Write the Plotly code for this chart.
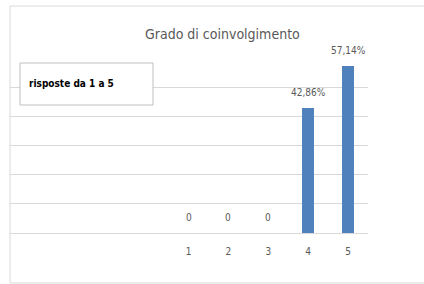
import plotly.graph_objects as go

categories = [1, 2, 3, 4, 5]
values = [0, 0, 0, 42.86, 57.14]
value_labels = ["0", "0", "0", "42,86%", "57,14%"]
tick_labels = ["1", "2", "3", "4", "5"]
title_text = "Grado di coinvolgimento"
legend_text = "risposte da 1 a 5"

FONT = "DejaVu Sans Condensed, Liberation Sans Narrow, sans-serif"
GREY = "#595959"

W, H = 424, 284
L, R, T, B = 10, 368, 58, 233  # plot area pixels


def px(x):
    return (x - L) / (R - L)


def py(y):
    return (B - y) / (B - T)


fig = go.Figure()
fig.add_trace(go.Bar(
    x=categories, y=values, width=0.3,
    marker=dict(color="#4f81bd", line=dict(width=0)),
    hoverinfo="skip",
))

for c, v, t in zip(categories, values, value_labels):
    fig.add_annotation(x=c, y=v, xref="x", yref="y", text=t, showarrow=False,
                       yanchor="bottom", yshift=8,
                       font=dict(family=FONT, size=10, color=GREY))

# outer chart border (left, top, bottom)
line_style = dict(color="#d9d9d9", width=1)
fig.add_shape(type="line", xref="paper", yref="paper", x0=px(10), x1=px(10), y0=py(6), y1=py(283), line=line_style)
fig.add_shape(type="line", xref="paper", yref="paper", x0=px(10), x1=px(424), y0=py(6), y1=py(6), line=line_style)
fig.add_shape(type="line", xref="paper", yref="paper", x0=px(10), x1=px(424), y0=py(283), y1=py(283), line=line_style)

# legend-like box
fig.add_shape(type="rect", xref="paper", yref="paper", x0=px(20), x1=px(153), y0=py(105), y1=py(63),
              line=dict(color="#bfbfbf", width=1), fillcolor="white", layer="above")
fig.add_annotation(xref="paper", yref="paper", x=px(27), y=py(83), xanchor="left", yanchor="middle",
                   text="<b>" + legend_text + "</b>", showarrow=False,
                   font=dict(family=FONT, size=10, color="black"))

# title
fig.add_annotation(xref="paper", yref="paper", x=px(222), y=py(34), xanchor="center", yanchor="middle",
                   text=title_text, showarrow=False,
                   font=dict(family=FONT, size=14, color=GREY))

fig.update_layout(
    width=W, height=H,
    margin=dict(l=L, r=W - R, t=T, b=H - B),
    paper_bgcolor="white", plot_bgcolor="white",
    showlegend=False,
    bargap=0,
    hovermode=False,
    xaxis=dict(range=[-3.475, 5.5], tickvals=categories, ticktext=tick_labels,
               showgrid=False, zeroline=False, showline=False,
               ticks="outside", ticklen=9, tickcolor="rgba(0,0,0,0)",
               tickfont=dict(family=FONT, size=10, color=GREY)),
    yaxis=dict(range=[0, 60], dtick=10, showticklabels=False,
               showgrid=True, gridcolor="#d9d9d9", gridwidth=1,
               zeroline=True, zerolinecolor="#d9d9d9", zerolinewidth=1,
               showline=False),
)

fig.write_html("out.html", config={"displayModeBar": False},
               post_script="document.body.style.margin='0px';")
